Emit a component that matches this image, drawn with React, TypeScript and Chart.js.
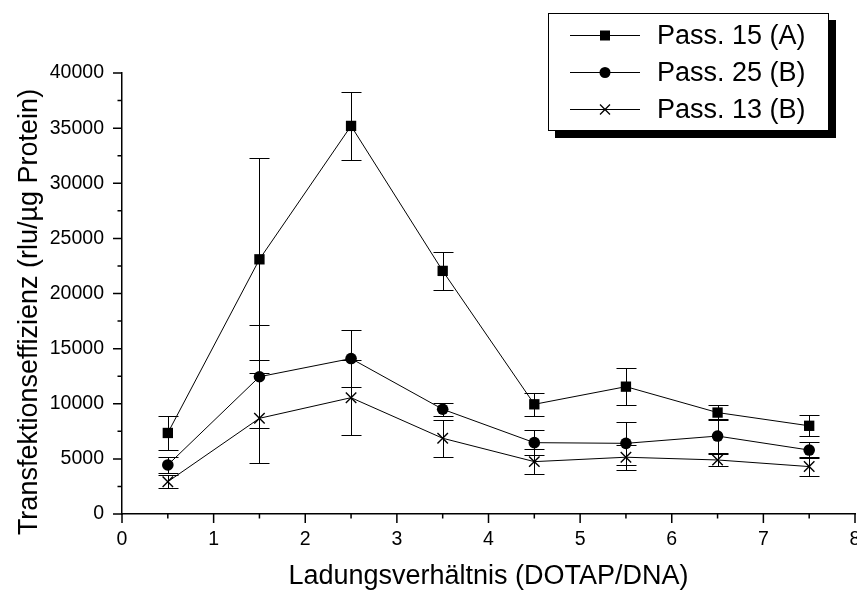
import React, { useEffect, useRef } from 'react';
import { Chart, registerables } from 'chart.js';

Chart.register(...registerables);

// Charge ratio (DOTAP/DNA) of each measurement
const ratios = [0.5, 1.5, 2.5, 3.5, 4.5, 5.5, 6.5, 7.5];

// Transfection efficiency (rlu/µg protein) and standard deviations
const pass15A = [7350, 23100, 35200, 22050, 9950, 11550, 9200, 8000];
const pass15AErr = [1550, 9150, 3100, 1720, 1060, 1680, 700, 970];

const pass25B = [4450, 12450, 14100, 9500, 6470, 6410, 7070, 5800];
const pass25BErr = [720, 4690, 2570, 600, 1150, 1960, 1550, 760];

const pass13B = [2930, 8680, 10550, 6870, 4750, 5150, 4900, 4300];
const pass13BErr = [570, 4080, 3380, 1670, 1140, 1150, 550, 840];

const seriesLabels = ['Pass. 15 (A)', 'Pass. 25 (B)', 'Pass. 13 (B)'];
const xTickValues = [0, 1, 2, 3, 4, 5, 6, 7, 8];
const yTickValues = [0, 5000, 10000, 15000, 20000, 25000, 30000, 35000, 40000];
const xTitle = 'Ladungsverhältnis (DOTAP/DNA)';
const yTitle = 'Transfektionseffizienz (rlu/µg Protein)';

const FONT = '"Liberation Sans", Arial, Helvetica, sans-serif';

function toPoints(values: number[]) {
  return values.map((v, i) => ({ x: ratios[i], y: v }));
}

function drawMarker(ctx: CanvasRenderingContext2D, style: string, x: number, y: number, s: number) {
  ctx.save();
  ctx.fillStyle = '#000';
  ctx.strokeStyle = '#000';
  if (style === 'rect') {
    ctx.fillRect(x - s / 2, y - s / 2, s, s);
  } else if (style === 'circle') {
    ctx.beginPath();
    ctx.arc(x, y, s / 2, 0, Math.PI * 2);
    ctx.fill();
  } else {
    ctx.lineWidth = 1.3;
    const h = s / 2;
    ctx.beginPath();
    ctx.moveTo(x - h, y - h);
    ctx.lineTo(x + h, y + h);
    ctx.moveTo(x - h, y + h);
    ctx.lineTo(x + h, y - h);
    ctx.stroke();
  }
  ctx.restore();
}

const decorations = {
  id: 'decorations',
  beforeDatasetsDraw(chart: any) {
    // vertical error bars with caps
    const { ctx, scales } = chart;
    const xs = scales.x;
    const ys = scales.y;
    ctx.save();
    ctx.strokeStyle = '#000';
    ctx.lineWidth = 1;
    chart.data.datasets.forEach((ds: any) => {
      ds.data.forEach((p: any, i: number) => {
        const e = ds.errors[i];
        const px = Math.round(xs.getPixelForValue(p.x)) + 0.5;
        const top = Math.round(ys.getPixelForValue(p.y + e)) + 0.5;
        const bot = Math.round(ys.getPixelForValue(p.y - e)) + 0.5;
        ctx.beginPath();
        ctx.moveTo(px, top);
        ctx.lineTo(px, bot);
        ctx.moveTo(px - 10, top);
        ctx.lineTo(px + 10, top);
        ctx.moveTo(px - 10, bot);
        ctx.lineTo(px + 10, bot);
        ctx.stroke();
      });
    });
    ctx.restore();
  },
  afterDraw(chart: any) {
    const { ctx, scales, chartArea } = chart;
    const xs = scales.x;
    const ys = scales.y;
    ctx.save();
    ctx.strokeStyle = '#000';
    ctx.lineWidth = 1.5;

    // outward tick marks, major and minor
    ctx.beginPath();
    for (let v = 0; v <= 8.0001; v += 0.5) {
      const px = xs.getPixelForValue(v);
      const major = Math.abs(v - Math.round(v)) < 1e-6;
      ctx.moveTo(px, chartArea.bottom);
      ctx.lineTo(px, chartArea.bottom + (major ? 9 : 4.5));
    }
    for (let v = 0; v <= 40000; v += 2500) {
      const py = ys.getPixelForValue(v);
      const major = v % 5000 === 0;
      ctx.moveTo(chartArea.left, py);
      ctx.lineTo(chartArea.left - (major ? 9 : 4.5), py);
    }
    ctx.stroke();

    // axis titles
    ctx.fillStyle = '#000';
    ctx.font = `27px ${FONT}`;
    ctx.textAlign = 'center';
    ctx.textBaseline = 'alphabetic';
    ctx.fillText(xTitle, (chartArea.left + chartArea.right) / 2, 584);
    ctx.save();
    ctx.translate(37, 312);
    ctx.rotate(-Math.PI / 2);
    ctx.fillText(yTitle, 0, 0);
    ctx.restore();

    // legend box with drop shadow
    const bx = 548, by = 13, bw = 281, bh = 118;
    ctx.fillStyle = '#000';
    ctx.fillRect(bx + 7, by + 7, bw, bh);
    ctx.fillStyle = '#fff';
    ctx.fillRect(bx, by, bw, bh);
    ctx.lineWidth = 1;
    ctx.strokeRect(bx + 0.5, by + 0.5, bw - 1, bh - 1);

    const rows = [35, 72, 109];
    const styles = ['rect', 'circle', 'crossRot'];
    const sizes = [10, 11, 10];
    ctx.font = `27px ${FONT}`;
    ctx.textAlign = 'left';
    ctx.textBaseline = 'middle';
    rows.forEach((ry, i) => {
      ctx.strokeStyle = '#000';
      ctx.lineWidth = 1;
      ctx.beginPath();
      ctx.moveTo(570, ry + 0.5);
      ctx.lineTo(640, ry + 0.5);
      ctx.stroke();
      drawMarker(ctx, styles[i], 605, ry + 0.5, sizes[i]);
      ctx.fillStyle = '#000';
      ctx.fillText(seriesLabels[i], 657, ry + 2);
    });
    ctx.restore();
  },
};

export default function App() {
  const canvasRef = useRef<HTMLCanvasElement | null>(null);

  useEffect(() => {
    const canvas = canvasRef.current;
    if (!canvas) return;

    const base = {
      borderColor: '#000',
      backgroundColor: '#000',
      borderWidth: 1,
      pointBackgroundColor: '#000',
      pointBorderColor: '#000',
      showLine: true,
      tension: 0,
    };

    const chart = new Chart(canvas, {
      type: 'scatter',
      data: {
        datasets: [
          { ...base, label: seriesLabels[0], data: toPoints(pass15A), errors: pass15AErr, pointStyle: 'rect', pointRadius: 7.3, pointBorderWidth: 0 } as any,
          { ...base, label: seriesLabels[1], data: toPoints(pass25B), errors: pass25BErr, pointStyle: 'circle', pointRadius: 5.8, pointBorderWidth: 0 } as any,
          { ...base, label: seriesLabels[2], data: toPoints(pass13B), errors: pass13BErr, pointStyle: 'crossRot', pointRadius: 7.4, pointBorderWidth: 1.4 } as any,
        ],
      },
      options: {
        responsive: false,
        animation: false,
        devicePixelRatio: 1,
        layout: { autoPadding: false, padding: { top: 73, right: 2, bottom: 0, left: 0 } },
        plugins: {
          legend: { display: false },
          tooltip: { enabled: false },
          title: { display: false },
        },
        scales: {
          x: {
            type: 'linear',
            min: 0,
            max: 8,
            afterBuildTicks: (s: any) => {
              s.ticks = xTickValues.map((v) => ({ value: v }));
            },
            afterFit: (s: any) => {
              s.height = 76;
              s.paddingLeft = 0;
              s.paddingRight = 0;
            },
            grid: { display: true, drawOnChartArea: false, drawTicks: false },
            border: { display: true, color: '#000', width: 1.5 },
            ticks: {
              color: '#000',
              font: { family: FONT, size: 19.5 },
              padding: 14,
              maxRotation: 0,
              autoSkip: false,
            },
          },
          y: {
            type: 'linear',
            min: 0,
            max: 40000,
            afterBuildTicks: (s: any) => {
              s.ticks = yTickValues.map((v) => ({ value: v }));
            },
            afterFit: (s: any) => {
              s.width = 122;
              s.paddingTop = 0;
              s.paddingBottom = 0;
            },
            grid: { display: true, drawOnChartArea: false, drawTicks: false },
            border: { display: true, color: '#000', width: 1.5 },
            ticks: {
              color: '#000',
              font: { family: FONT, size: 19.5 },
              padding: 18,
              autoSkip: false,
              callback: (v: any) => String(v),
            },
          },
        },
      } as any,
      plugins: [decorations],
    });

    return () => chart.destroy();
  }, []);

  return (
    <div style={{ position: 'absolute', left: 0, top: 0, width: 857, height: 590, background: '#fff' }}>
      <canvas ref={canvasRef} width={857} height={590} style={{ width: 857, height: 590, display: 'block' }} />
    </div>
  );
}
